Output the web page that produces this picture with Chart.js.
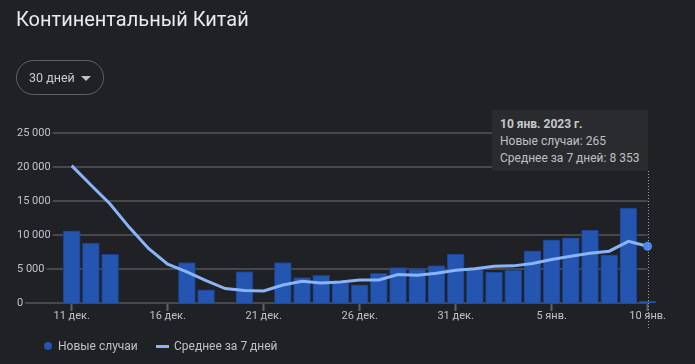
<!DOCTYPE html>
<html><head><meta charset="utf-8">
<script src="https://cdn.jsdelivr.net/npm/chart.js@4"></script>
<style>
html,body{margin:0;padding:0;background:#202124;width:695px;height:364px;overflow:hidden;font-family:Roboto,Arial,sans-serif;}
#wrap{position:relative;width:695px;height:364px;}
#c{position:absolute;left:0;top:0;}
.abs{position:absolute;white-space:nowrap;}
#title{left:16px;top:5px;font-size:20px;line-height:28px;color:#e8eaed;}
#dd{left:16px;top:60px;width:86px;height:33px;border:1px solid #5f6368;border-radius:18px;}
#ddtxt{left:29px;top:69px;font-size:12.5px;line-height:17px;color:#c8cbcf;}
#ddarr{left:81px;top:76px;width:0;height:0;border-left:5px solid transparent;border-right:5px solid transparent;border-top:5px solid #bdc1c6;}
#tip{left:492px;top:110px;width:148px;height:55px;padding:6px 0 0 8px;background:#2a2b2e;font-size:12px;line-height:17px;color:#bdc1c6;}
#tip b{color:#c6c9cc;}
.leg{top:338px;font-size:12px;line-height:16px;color:#bdc1c6;}
#lg1{left:44px;top:342px;width:8px;height:8px;border-radius:50%;background:#2455b0;}
#lg2{left:156px;top:345px;width:13px;height:3px;background:#8ab4f8;}
</style></head>
<body><div id="wrap">
<canvas id="c" width="695" height="364"></canvas>
<div id="title" class="abs">Континентальный Китай</div>
<div id="dd" class="abs"></div>
<div id="ddtxt" class="abs">30 дней</div>
<div id="ddarr" class="abs"></div>
<div id="tip" class="abs"></div>
<div id="lg1" class="abs"></div>
<div class="abs leg" style="left:58px">Новые случаи</div>
<div id="lg2" class="abs"></div>
<div class="abs leg" style="left:174px">Среднее за 7 дней</div>
</div>
<script>
// Days: 11 Dec 2022 .. 10 Jan 2023
const days = ["11 дек.","12 дек.","13 дек.","14 дек.","15 дек.","16 дек.","17 дек.","18 дек.","19 дек.","20 дек.","21 дек.","22 дек.","23 дек.","24 дек.","25 дек.","26 дек.","27 дек.","28 дек.","29 дек.","30 дек.","31 дек.","1 янв.","2 янв.","3 янв.","4 янв.","5 янв.","6 янв.","7 янв.","8 янв.","9 янв.","10 янв."];
const newCases = [10620,8800,7140,null,null,null,5960,1920,null,4630,null,5960,3750,4080,3010,2660,4380,5220,5010,5510,7180,5070,4530,4820,7670,9290,9590,10720,7080,13970,265];
const avg7 = [20200,17360,14560,11120,8020,5710,4570,3300,2120,1830,1770,2650,3200,2950,3100,3390,3390,4190,4080,4380,4820,5050,5410,5460,5810,6400,6890,7330,7620,9060,8353];
const xTickPos = [0,5,10,15,20,25,30];
const xTickLabels = ["11 дек.","16 дек.","21 дек.","26 дек.","31 дек.","5 янв.","10 янв."];
const yTicks = [0,5000,10000,15000,20000,25000];
const tipTitle = "10 янв. 2023 г.";
const seriesNames = ["Новые случаи","Среднее за 7 дней"];

const fmt = v => String(v).replace(/\B(?=(\d{3})+(?!\d))/g,' ');
const last = days.length - 1;

document.getElementById('tip').innerHTML =
  '<b>'+tipTitle+'</b><br>'+seriesNames[0]+': '+fmt(newCases[last])+'<br>'+seriesNames[1]+': '+fmt(avg7[last]);

const gridPlugin = {
  id:'gridPlugin',
  beforeDatasetsDraw(chart){
    const {ctx, scales:{x,y}} = chart;
    ctx.save();
    ctx.font = '11px Roboto, Arial, sans-serif';
    ctx.strokeStyle = '#46484c';
    ctx.lineWidth = 2;
    const xr = x.getPixelForValue(last);
    yTicks.forEach(v=>{
      const w = ctx.measureText(fmt(v)).width;
      const py = Math.round(y.getPixelForValue(v));
      ctx.beginPath();
      ctx.moveTo(17 + w + 2, py);
      ctx.lineTo(xr, py);
      ctx.stroke();
    });
    ctx.restore();
  },
  afterDatasetsDraw(chart){
    const {ctx, scales:{x}} = chart;
    const px = Math.round(x.getPixelForValue(last)) + 0.5;
    ctx.save();
    ctx.strokeStyle = '#9aa0a6';
    ctx.lineWidth = 1;
    ctx.setLineDash([1,2]);
    ctx.beginPath();
    ctx.moveTo(px, 171);
    ctx.lineTo(px, 330);
    ctx.stroke();
    ctx.restore();
  }
};

new Chart(document.getElementById('c'), {
  data:{
    datasets:[
      {type:'line', label:seriesNames[1], data:avg7.map((v,i)=>({x:i,y:v})),
       borderColor:'#8ab4f8', borderWidth:3, tension:0, clip:false,
       pointRadius:ctx=>ctx.dataIndex===last?4.5:0, pointBackgroundColor:'#4a86ee', pointBorderWidth:0, order:0},
      {type:'bar', label:seriesNames[0], data:newCases.map((v,i)=>({x:i,y:v})),
       backgroundColor:'#2455b0', borderColor:'#1b3f86', borderWidth:1, barThickness:17, clip:false, order:1}
    ]
  },
  options:{
    responsive:false, animation:false, events:[],
    layout:{padding:{left:17,right:47,top:133,bottom:0}},
    plugins:{legend:{display:false}, tooltip:{enabled:false}},
    scales:{
      x:{type:'linear', min:-1.13, max:30.02, offset:false,
         afterBuildTicks:s=>{s.ticks = xTickPos.map(v=>({value:v}));},
         afterFit:s=>{s.height = 61;},
         grid:{display:true, offset:false, drawOnChartArea:false, drawTicks:true, tickLength:8, tickColor:'#5f6368', tickWidth:2},
         border:{display:false},
         ticks:{autoSkip:false, maxRotation:0, padding:-1, color:'#bdc1c6', font:{family:'Roboto, Arial, sans-serif', size:11},
                callback:(v,i)=>xTickLabels[i]}
      },
      y:{type:'linear', min:0, max:25000,
         afterBuildTicks:s=>{s.ticks = yTicks.map(v=>({value:v}));},
         afterFit:s=>{s.width = 33;},
         grid:{display:false}, border:{display:false},
         ticks:{crossAlign:'far', color:'#c0c4c8', font:{family:'Roboto, Arial, sans-serif', size:11},
                callback:v=>fmt(v)}
      }
    }
  },
  plugins:[gridPlugin]
});
</script>
</body></html>
